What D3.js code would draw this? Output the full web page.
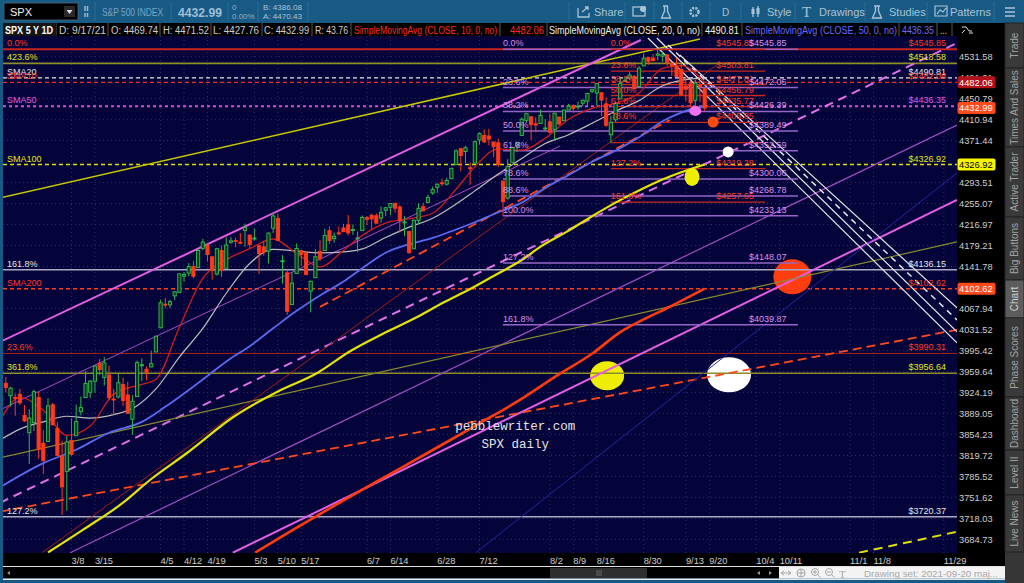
<!DOCTYPE html>
<html><head><meta charset="utf-8">
<script src="https://cdn.jsdelivr.net/npm/d3@7/dist/d3.min.js"></script>
<style>
html,body{margin:0;padding:0;background:#175982;overflow:hidden;}
svg{display:block;font-family:'Liberation Sans',Arial,Helvetica,sans-serif;}
</style></head><body>
<svg id="chart" width="1024" height="583"></svg>
<script>
// ================= DATA =================
// SPX daily candles, 2021-02-16 .. 2021-09-17 (bar index 0..149)
const opens=[3939.61,3918.50,3915.86,3921.16,3885.55,3857.07,3873.71,3915.80,3839.66,
3842.51,3903.64,3863.99,3818.53,3793.58,
3844.39,3851.93,3891.99,3915.54,3924.52,
3942.96,3973.59,3949.57,3953.50,3913.14,
3916.48,3937.60,3919.93,3879.34,3917.12,
3969.31,3963.34,3967.25,3992.78,
4034.44,4075.57,4074.29,4089.95,4096.11,
4124.71,4130.10,4141.58,4139.76,4174.14,
4179.80,4159.18,4128.42,4170.46,4138.78,
4185.03,4188.25,4185.14,4206.14,4198.10,
4191.98,4179.04,4177.06,4169.14,4210.34,
4228.29,4150.34,4130.55,4074.99,4129.58,
4169.92,4165.94,4098.45,4121.97,4168.61,
4170.16,4205.94,4191.59,4201.94,4210.77,
4216.52,4206.82,4191.43,4206.05,
4229.34,4233.81,4232.99,4228.56,4242.90,
4248.31,4255.28,4248.87,4220.37,4204.78,
4173.40,4224.61,4249.27,4256.97,4274.45,
4284.90,4293.21,4290.65,4300.73,4326.60,
4356.46,4351.01,4321.07,4329.38,
4372.41,4381.07,4380.11,4369.02,4367.43,
4296.40,4265.11,4331.13,4361.27,4381.20,
4409.58,4416.38,4402.95,4403.59,4395.12,
4406.86,4392.74,4415.95,4408.86,4429.07,
4437.77,4435.79,4442.18,4446.08,4464.84,
4461.65,4462.12,4440.94,4382.44,4410.56,
4450.29,4484.40,4490.45,4493.75,4474.10,
4513.76,4529.75,4528.80,4534.48,4532.42,
4535.38,4518.09,4513.02,4506.92,
4474.81,4479.33,4447.49,4477.09,4469.74];
const highs=[3950.43,3933.61,3921.98,3930.41,3902.92,3895.98,3928.65,3925.02,3861.08,
3914.50,3906.41,3874.47,3843.67,3851.69,
3881.06,3903.76,3917.35,3960.27,3944.99,
3970.08,3981.04,3983.87,3969.62,3930.12,
3955.31,3949.13,3942.08,3919.54,3978.19,
3981.83,3968.01,3994.41,4020.63,
4083.42,4086.23,4083.13,4098.19,4129.48,
4131.76,4148.00,4151.69,4173.49,4191.31,
4180.81,4159.18,4175.02,4179.57,4194.17,
4194.19,4193.35,4201.53,4218.78,4198.10,
4209.39,4179.04,4187.72,4202.70,4238.04,
4236.39,4162.04,4134.73,4131.58,4183.13,
4171.92,4169.15,4116.93,4172.80,4188.72,
4209.52,4213.42,4202.61,4213.38,4218.36,
4234.12,4217.37,4204.39,4233.45,
4232.34,4236.74,4237.09,4249.74,4248.38,
4255.59,4257.16,4251.89,4232.29,4204.78,
4226.24,4255.84,4256.60,4271.28,4286.12,
4292.14,4300.52,4302.43,4320.66,4355.43,
4356.46,4361.88,4330.88,4371.60,
4386.68,4392.37,4393.68,4369.02,4375.09,
4296.40,4336.84,4359.70,4369.87,4415.18,
4422.73,4416.38,4415.47,4429.97,4412.25,
4422.18,4423.79,4416.17,4429.76,4440.82,
4439.39,4445.21,4449.44,4461.77,4468.37,
4480.26,4462.12,4454.32,4418.61,4444.35,
4489.88,4492.81,4501.71,4495.90,4513.33,
4537.36,4531.39,4537.11,4545.85,4541.45,
4535.38,4521.79,4529.90,4520.47,
4492.99,4485.68,4486.87,4485.87,4471.52];
const lows=[3923.85,3900.43,3885.03,3903.07,3874.71,3805.59,3859.60,3814.04,3789.54,
3842.51,3868.57,3818.86,3723.34,3730.19,
3819.25,3851.93,3885.73,3915.54,3915.21,
3923.54,3953.44,3935.74,3910.86,3886.75,
3914.16,3901.57,3889.07,3853.50,3917.12,
3943.25,3944.35,3966.98,3992.78,
4034.44,4068.14,4068.31,4082.54,4095.51,
4114.82,4124.43,4120.87,4139.76,4170.75,
4150.47,4118.38,4126.01,4123.69,4138.78,
4182.36,4176.22,4181.78,4176.81,4174.85,
4188.03,4128.59,4160.94,4147.33,4201.64,
4188.13,4111.53,4056.88,4074.99,4129.58,
4142.69,4125.99,4061.41,4121.97,4151.72,
4170.16,4182.52,4184.11,4197.78,4203.57,
4197.59,4198.27,4167.93,4206.05,
4215.66,4208.41,4218.74,4220.34,4232.25,
4234.07,4238.35,4202.45,4196.05,4164.40,
4173.40,4217.27,4241.43,4256.97,4271.16,
4274.67,4287.04,4287.96,4300.73,4326.60,
4314.37,4329.79,4289.37,4329.38,
4364.03,4366.92,4362.36,4340.70,4322.53,
4233.13,4262.05,4331.13,4350.06,4381.20,
4405.45,4372.51,4387.01,4403.59,4389.65,
4384.81,4373.00,4400.23,4408.86,4429.07,
4424.74,4430.03,4436.42,4435.96,4460.82,
4437.66,4417.83,4397.59,4367.73,4406.80,
4450.29,4482.28,4485.66,4468.99,4474.10,
4513.76,4515.80,4522.02,4524.66,4521.79,
4513.00,4493.95,4492.07,4457.66,
4445.70,4435.46,4438.37,4443.80,4427.76];
const closes=[3932.59,3931.33,3913.97,3906.71,3876.50,3881.37,3925.43,3829.34,3811.15,
3901.82,3870.29,3819.72,3768.47,3841.94,
3821.35,3875.44,3898.81,3939.34,3943.34,
3968.94,3962.71,3974.12,3915.46,3913.10,
3940.59,3910.52,3889.14,3909.52,3974.54,
3971.09,3958.55,3972.89,4019.87,
4077.91,4073.94,4079.95,4097.17,4128.80,
4127.99,4141.59,4124.66,4170.42,4185.47,
4163.26,4134.94,4173.42,4134.98,4180.17,
4187.62,4186.72,4183.18,4211.47,4181.17,
4192.66,4164.66,4167.59,4201.62,4232.60,
4188.43,4152.10,4063.04,4112.50,4173.85,
4163.29,4127.83,4115.68,4159.12,4155.86,
4197.05,4188.13,4195.99,4200.88,4204.11,
4202.04,4208.12,4192.85,4229.89,
4226.52,4227.26,4219.55,4239.18,4247.44,
4255.15,4246.59,4223.70,4221.86,4166.45,
4224.79,4246.44,4241.84,4266.49,4280.70,
4290.61,4291.80,4297.50,4319.94,4352.34,
4343.54,4358.13,4320.82,4369.55,
4384.63,4369.21,4374.30,4360.03,4327.16,
4258.49,4323.06,4358.69,4367.48,4411.79,
4422.30,4401.46,4400.64,4419.15,4395.26,
4387.16,4423.15,4402.66,4429.10,4436.52,
4432.35,4436.75,4447.70,4460.83,4468.00,
4479.71,4448.08,4400.27,4405.80,4441.67,
4479.53,4486.23,4496.19,4470.00,4509.37,
4528.79,4522.68,4524.09,4536.95,4535.43,
4520.03,4514.07,4493.28,4458.58,
4468.73,4443.05,4480.70,4473.75,4432.99];

// moving averages: [bar index, value]
const sma10=[[-1.2,3877.7],[3,3915.9],[8,3894.3],[13,3852.6],[18,3868.1],[23,3921.3],[28,3935.9],[32,3946.0],[37,4035.5],[42,4120.8],[47,4153.7],[52,4173.7],[57,4190.9],[62,4164.9],[67,4141.2],[72,4170.8],[76,4197.5],[81,4219.7],[86,4227.4],[91,4237.4],[96,4281.2],[100,4322.5],[105,4356.0],[110,4353.5],[115,4375.8],[120,4411.7],[125,4432.4],[130,4442.1],[135,4461.7],[140,4508.9],[144,4514.3],[149,4482.06]];
const sma20=[[-1.2,3845],[3,3863.0],[8,3875.0],[13,3884.3],[18,3881.2],[23,3886.9],[28,3902.0],[32,3930.1],[37,3984.1],[42,4033.4],[47,4094.6],[52,4147.2],[57,4172.3],[62,4169.3],[67,4166.0],[72,4167.8],[76,4173.2],[81,4193.7],[86,4212.4],[91,4228.5],[96,4254.3],[100,4278.3],[105,4309.3],[110,4338.0],[115,4365.9],[120,4382.6],[125,4404.1],[130,4426.9],[135,4447.1],[140,4475.5],[144,4485.9],[149,4490.81]];
const sma50=[[-1.2,3768],[8,3807],[15,3829],[22,3857],[29,3875],[34,3900],[41,3940],[48,3982],[52,4002.7],[57,4033.5],[62,4063.9],[67,4090.8],[72,4115.2],[76,4138.8],[81,4166.3],[86,4181.6],[91,4192.9],[96,4208.1],[100,4221.2],[105,4239.2],[110,4256.8],[115,4283.7],[120,4307.4],[125,4332.1],[130,4352.8],[135,4377.7],[140,4407.8],[144,4424.3],[149,4436.35]];
const sma100=[[9,3664],[16.5,3700],[25,3743],[30.8,3780],[38.7,3824],[48.5,3883],[57.8,3925],[66.4,3957],[73.4,3994],[80.4,4024],[87.7,4053],[93.2,4078],[99,4102.1],[104,4125.1],[110,4153.4],[114,4177.3],[120,4206.1],[125,4232.1],[130,4256.8],[135,4279.0],[140,4299.2],[144,4312.6],[149,4326.92]];
const sma200=[[53.2,3664],[61.3,3700],[70,3738],[80,3781],[90,3824],[101.1,3873],[109.7,3912],[117,3950],[125.2,3991],[131,4027],[136,4049],[141.6,4071],[149,4102.62]];

// price axis ticks (the two covered by badges are not shown in the reference)
const yTicks=[4531.58,4491.01,4450.79,4410.94,4371.44,4293.51,4255.07,4216.97,4179.21,4141.78,4067.94,4031.52,3995.42,3959.64,3924.19,3889.05,3854.23,3819.72,3785.52,3751.62,3718.03,3684.73];
// date axis
const dateLabels=['3/8','3/15','4/5','4/12','4/19','5/3','5/10','5/17','6/7','6/14','6/28','7/12','8/2','8/9','8/16','8/30','9/13','9/20','10/4','10/11','11/1','11/8','11/29'];
const dateBars=[14,19,33,38,43,53,58,63,77,82,92,101,116,121,126,136,145,150,160,165,180,185,200];

// full-width price levels
const levelPrices=[4545.85,4518.58,4490.81,4482.06,4436.35,4326.92,4136.15,4102.62,3990.31,3956.64,3720.37];
const levelNames=['0.0%','423.6%','SMA20','SMA10','SMA50','SMA100','161.8%','SMA200','23.6%','361.8%','127.2%'];
const levelKinds=['red','olive','white','red2','magenta','yellow','gray','orange','red3','olive','gray'];

// fibonacci sets
const fibAPct=['0.0%','23.6%','38.2%','50.0%','61.8%','78.6%','88.6%','100.0%','127.2%','161.8%'];
const fibAPrice=[4545.85,4472.05,4426.39,4389.49,4352.59,4300.06,4268.78,4233.13,4148.07,4039.87];
const fibASpan=[106.0,168.9];
const fibBPct=['0.0%','23.6%','38.2%','50.0%','61.8%','78.6%','','127.2%','161.8%'];
const fibBPrice=[4545.85,4503.81,4477.81,4456.79,4435.77,4405.85,4367.73,4319.28,4257.65];
const fibBSpan=[129.0,161.9];

// trend lines: [bar, price] -> [bar, price]
const trendA=[[-1.24,4265.4],[-1.24,4010.1],[-1.24,3895.0],[-1.24,3742.9],[48.4,3663.6],[13.7,3663.6],[-1.24,3728.5],[67.0,4070.7],[-1.24,3815.7],[181.9,3663.6],[7.7,3663.6],[100.2,3663.6],[136.9,4568.1],[138.8,4568.1],[141.2,4554.4],[143.7,4534.9]];
const trendB=[[148.0,4566.1],[135.4,4564.1],[118.2,4361.5],[202.8,4558.3],[202.8,4261.8],[202.8,4400.9],[202.8,4031.0],[141.6,4410.3],[202.8,4185.7],[202.8,3696.7],[151.6,4515.5],[202.8,4311.3],[202.8,4008.5],[202.8,4027.4],[202.8,4048.2],[202.8,4069.0]];
const trendKinds=['yellow','pink','pinkThin','pinkDash','pink','purple','redDash','redDash','olive','yellowDash','darkRed','navy','white','white','whiteDash','white'];

// marker dots
const markBars=[128.2,154.2,167.7,146.3,154.0,147.0,150.8];
const markPrices=[3952.3,3954.0,4123.5,4303.9,4350.3,4427.4,4406.5];
const markKinds=['bigYellow','bigWhite','bigOrange','dotYellow','dotWhite','dotPink','dotOrange'];

// badges on price axis
const badgeValues=[4482.06,4432.99,4326.92,4102.62];
const badgeKinds=['darkred','orange','yellow','orange'];

// ================= STYLES =================
const levelStyle={
 red:{s:'#c8261c',w:2,d:null,t:'#ff3a22'},
 olive:{s:'#8c8c2a',w:1.6,d:null,t:'#e4e41a'},
 white:{s:'#e6e6e6',w:1.3,d:'4,3',t:'#e6e6e6'},
 red2:{s:'#e8302a',w:1.3,d:'4,3',t:'#ff3a22'},
 magenta:{s:'#d54fd5',w:2,d:'3,3',t:'#e05ce0'},
 yellow:{s:'#e0e000',w:1.5,d:'4,3',t:'#e4e41a'},
 gray:{s:'#a9a9c4',w:1.5,d:null,t:'#e6e6e6'},
 orange:{s:'#ff3c1e',w:1.5,d:'4,3',t:'#ff3a22'},
 red3:{s:'#a82018',w:1,d:null,t:'#ff3a22'}
};
const trendStyle={
 yellow:{s:'#c8c800',w:1.5},
 pink:{s:'#e25ee2',w:2},
 pinkThin:{s:'#a64ac0',w:1},
 pinkDash:{s:'#e070e8',w:2,d:'9,6'},
 purple:{s:'#a050c0',w:1.2},
 redDash:{s:'#ff4a1e',w:1.8,d:'9,5'},
 olive:{s:'#8a8a30',w:1.2},
 yellowDash:{s:'#e0e000',w:2,d:'9,6'},
 darkRed:{s:'#a02018',w:1},
 navy:{s:'#2626a0',w:1},
 white:{s:'#e8e8e8',w:1.2},
 whiteDash:{s:'#e8e8e8',w:1.5,d:'6,5'}
};
const markStyle={
 bigYellow:{f:'#eeee00',rx:17,ry:14.5},
 bigWhite:{f:'#ffffff',rx:22,ry:17.5},
 bigOrange:{f:'#ff3d0e',rx:19,ry:17.5},
 dotYellow:{f:'#eeee00',rx:7.5,ry:9},
 dotWhite:{f:'#ffffff',rx:5.5,ry:5.5},
 dotPink:{f:'#f070f0',rx:6,ry:5},
 dotOrange:{f:'#ff4a10',rx:5.5,ry:5.5}
};
const badgeStyle={darkred:{f:'#b3121b',t:'#fff'},orange:{f:'#ff4a1c',t:'#fff'},yellow:{f:'#f6f600',t:'#000'}};
const maStyle=[[sma200,'#ff3b10',2.6],[sma100,'#e4e400',2.2],[sma50,'#5a6af0',1.8],[sma20,'#bdbdbd',1.2],[sma10,'#d01c1c',1.3]];

// ================= LAYOUT =================
const svg=d3.select('#chart');
const L={pl:3,pr:957,pt:36,pb:553,ar:1003,sl:1005};
const x=d3.scaleLinear().domain([-0.6,202.8]).range([L.pl,L.pr]);
const y=d3.scaleLog().domain([3684.73,4531.58]).range([539.3,56.7]);
const FS=9;

// backgrounds
svg.append('rect').attr('width',1024).attr('height',583).attr('fill','#175982');
svg.append('rect').attr('x',0).attr('y',0).attr('width',1024).attr('height',23).attr('fill','#185a84');
svg.append('rect').attr('x',3).attr('y',23).attr('width',1002).attr('height',13).attr('fill','#000');
svg.append('rect').attr('x',L.pl).attr('y',L.pt).attr('width',L.pr-L.pl).attr('height',L.pb-L.pt).attr('fill','#04043a');
svg.append('rect').attr('x',L.pr).attr('y',L.pt).attr('width',L.sl-L.pr).attr('height',L.pb-L.pt).attr('fill','#000');
svg.append('rect').attr('x',3).attr('y',L.pb).attr('width',L.sl-3).attr('height',13).attr('fill','#000');
svg.append('rect').attr('x',3).attr('y',566).attr('width',L.sl-3).attr('height',1).attr('fill','#e0e0e0');
svg.append('rect').attr('x',3).attr('y',567).attr('width',776).attr('height',11.5).attr('fill','#000');
svg.append('rect').attr('x',779).attr('y',567).attr('width',L.sl-779).attr('height',11.5).attr('fill','#f3f3f3');
svg.append('rect').attr('x',3).attr('y',578.5).attr('width',L.sl-3).attr('height',1.5).attr('fill','#e8e8e8');

const defs=svg.append('defs');
defs.append('clipPath').attr('id','clip').append('rect').attr('x',L.pl).attr('y',L.pt).attr('width',L.pr-L.pl).attr('height',L.pb-L.pt);
const g=svg.append('g').attr('clip-path','url(#clip)');

// grid
g.selectAll('.hg').data(yTicks).join('line').attr('x1',L.pl).attr('x2',L.pr)
 .attr('y1',d=>y(d)).attr('y2',d=>y(d)).attr('stroke','#2e2e62').attr('stroke-width',1).attr('stroke-dasharray','1,3');
g.selectAll('.vg').data(dateBars).join('line').attr('y1',L.pt).attr('y2',L.pb)
 .attr('x1',d=>x(d)).attr('x2',d=>x(d)).attr('stroke','#2e2e62').attr('stroke-width',1).attr('stroke-dasharray','1,3');

// big markers (under lines)
const marks=markBars.map((b,i)=>({b,p:markPrices[i],k:markKinds[i]}));
g.selectAll('.bm').data(marks.filter(m=>m.k.startsWith('big'))).join('ellipse')
 .attr('cx',d=>x(d.b)).attr('cy',d=>y(d.p)).attr('rx',d=>markStyle[d.k].rx).attr('ry',d=>markStyle[d.k].ry).attr('fill',d=>markStyle[d.k].f);

// full-width levels
const levels=levelPrices.map((p,i)=>({p,n:levelNames[i],k:levelKinds[i]}));
g.selectAll('.lv').data(levels).join('line').attr('x1',L.pl).attr('x2',L.pr)
 .attr('y1',d=>y(d.p)).attr('y2',d=>y(d.p))
 .attr('stroke',d=>levelStyle[d.k].s).attr('stroke-width',d=>levelStyle[d.k].w)
 .attr('stroke-dasharray',d=>levelStyle[d.k].d);

// trend lines
const trends=trendA.map((a,i)=>({a,b:trendB[i],k:trendKinds[i]}));
g.selectAll('.tl').data(trends).join('line')
 .attr('x1',d=>x(d.a[0])).attr('y1',d=>y(d.a[1])).attr('x2',d=>x(d.b[0])).attr('y2',d=>y(d.b[1]))
 .attr('stroke',d=>trendStyle[d.k].s).attr('stroke-width',d=>trendStyle[d.k].w)
 .attr('stroke-dasharray',d=>trendStyle[d.k].d||null);

// fib lines
function fib(pcts,prices,span,lineC,lw){
  const data=prices.map((p,i)=>({p,t:pcts[i]}));
  g.selectAll(null).data(data).join('line').attr('x1',x(span[0])).attr('x2',x(span[1]))
   .attr('y1',d=>y(d.p)).attr('y2',d=>y(d.p)).attr('stroke',lineC).attr('stroke-width',lw);
  return data;
}
const fibAData=fib(fibAPct,fibAPrice,fibASpan,'#9464c8',1.5);
const fibBData=fib(fibBPct,fibBPrice,fibBSpan,'#c42a1c',1.3);

// moving averages
const line=d3.line().x(d=>x(d[0])).y(d=>y(d[1])).curve(d3.curveMonotoneX);
maStyle.forEach(([arr,c,w])=>{
  g.append('path').attr('d',line(arr)).attr('fill','none').attr('stroke',c).attr('stroke-width',w);
});

// candles
const bars=closes.map((c,i)=>({i,o:opens[i],h:highs[i],l:lows[i],c}));
const cg=g.append('g');
cg.selectAll('.wk').data(bars).join('line').attr('x1',d=>x(d.i)).attr('x2',d=>x(d.i))
 .attr('y1',d=>y(d.h)).attr('y2',d=>y(d.l)).attr('stroke',d=>d.c>=d.o?'#2fb84c':'#ff3a1a').attr('stroke-width',1);
cg.selectAll('.bd').data(bars).join('rect')
 .attr('x',d=>x(d.i)-1.6).attr('width',3.2)
 .attr('y',d=>y(Math.max(d.o,d.c))).attr('height',d=>Math.max(1,y(Math.min(d.o,d.c))-y(Math.max(d.o,d.c))))
 .attr('fill',d=>d.c>=d.o?'#0c3a1c':'#ff3a1a').attr('stroke',d=>d.c>=d.o?'#33c050':'#ff3a1a').attr('stroke-width',0.9);

// small dots
g.selectAll('.sm').data(marks.filter(m=>m.k.startsWith('dot'))).join('ellipse')
 .attr('cx',d=>x(d.b)).attr('cy',d=>y(d.p)).attr('rx',d=>markStyle[d.k].rx).attr('ry',d=>markStyle[d.k].ry).attr('fill',d=>markStyle[d.k].f);

// fib labels
function fibLabels(data,span,c){
  const tg=g.append('g').attr('font-size',FS).attr('fill',c);
  tg.selectAll(null).data(data.filter(d=>d.t)).join('text').attr('x',x(span[0])).attr('y',d=>y(d.p)-3).text(d=>d.t);
  tg.selectAll(null).data(data.filter(d=>d.t)).join('text').attr('x',x(span[1])-49).attr('y',d=>y(d.p)-3).text(d=>'$'+d.p.toFixed(2));
}
fibLabels(fibBData,fibBSpan,'#ff3c28');
fibLabels(fibAData,fibASpan,'#d892ee');

// level labels
const lg=g.append('g').attr('font-size',FS);
lg.selectAll(null).data(levels).join('text').attr('x',L.pl+4).attr('y',d=>y(d.p)-3)
 .attr('fill',d=>levelStyle[d.k].t).text(d=>d.n);
lg.selectAll(null).data(levels).join('text').attr('x',L.pr-11).attr('text-anchor','end').attr('y',d=>y(d.p)-3)
 .attr('fill',d=>levelStyle[d.k].t).text(d=>'$'+d.p.toFixed(2));

// watermark
const wm=g.append('g').attr('font-family',"'Liberation Mono','DejaVu Sans Mono',monospace").attr('font-size',12.5).attr('fill','#e4e4e4').attr('text-anchor','middle');
wm.append('text').attr('x',x(108.6)).attr('y',y(3861.8)).text('pebblewriter.com');
wm.append('text').attr('x',x(108.6)).attr('y',y(3832.6)).text('SPX daily');

// price axis
svg.append('g').attr('font-size',9.3).attr('fill','#cfcfcf').selectAll('text').data(yTicks).join('text')
 .attr('x',L.pr+2).attr('y',d=>y(d)+3.3).text(d=>d.toFixed(2));
const badges=badgeValues.map((v,i)=>({v,k:badgeKinds[i]}));
const bg=svg.append('g');
bg.selectAll('rect').data(badges).join('rect').attr('x',L.pr+0.5).attr('y',d=>y(d.v)-6).attr('width',38).attr('height',12).attr('rx',2)
 .attr('fill',d=>badgeStyle[d.k].f);
bg.selectAll('text').data(badges).join('text').attr('x',L.pr+2).attr('y',d=>y(d.v)+3.3).attr('font-size',9.3)
 .attr('fill',d=>badgeStyle[d.k].t).text(d=>d.v.toFixed(2));

// date axis
svg.append('g').attr('font-size',9.3).attr('fill','#cfcfcf').selectAll('text').data(dateLabels).join('text')
 .attr('x',(d,i)=>x(dateBars[i])).attr('y',563.5).text(d=>d);

// ================= INFO BAR =================
const info=svg.append('g').attr('font-size',10);
const seps=[56,108,160,211,262,312,351,500,547,702,742,899,937,952];
info.selectAll('line').data(seps).join('line').attr('x1',d=>d).attr('x2',d=>d).attr('y1',23).attr('y2',36).attr('stroke','#3a3a3a').attr('stroke-width',1.5);
info.append('rect').attr('x',3).attr('y',23).attr('width',53).attr('height',13).attr('fill','#151515');
const infoTexts=[
 ['SPX 5 Y 1D',5,48,'#ffffff',true],['D: 9/17/21',59,47,'#cfcfcf'],['O: 4469.74',111,47,'#cfcfcf'],['H: 4471.52',163,46,'#cfcfcf'],
 ['L: 4427.76',213,46,'#cfcfcf'],['C: 4432.99',264,45,'#cfcfcf'],['R: 43.76',315,33,'#cfcfcf'],
 ['SimpleMovingAvg (CLOSE, 10, 0, no)',354,143,'#ff2a1e'],['4482.06',510,34,'#ff2a1e'],
 ['SimpleMovingAvg (CLOSE, 20, 0, no)',549,151,'#f0f0f0'],['4490.81',705,34,'#f0f0f0'],
 ['SimpleMovingAvg (CLOSE, 50, 0, no)',745,152,'#6a6aff'],['4436.35',902,32,'#6a6aff'],['...',940,7,'#e8e800']
];
infoTexts.forEach(([t,x0,w,c,b])=>{
  info.append('text').attr('x',x0).attr('y',33.5).attr('fill',c).attr('font-weight',b?'bold':null)
   .attr('textLength',w).attr('lengthAdjust','spacingAndGlyphs').text(t);
});
info.append('path').attr('d','M962,27 l4,0 l3,4 l3,0 M962,33 l3,-3 M969,33 l4,0').attr('stroke','#ddd').attr('fill','none').attr('stroke-width',1);

// ================= TOOLBAR =================
const tb=svg.append('g').attr('font-size',11).attr('fill','#a9c3d6');
tb.append('rect').attr('x',4).attr('y',3).attr('width',74).attr('height',17).attr('fill','#000').attr('stroke','#4a6a80').attr('stroke-width',0.8);
tb.append('text').attr('x',10).attr('y',15.5).attr('fill','#f0f0f0').attr('font-size',11).text('SPX');
tb.append('rect').attr('x',64).attr('y',6).attr('width',11).attr('height',11).attr('fill','#2a2a2a');
tb.append('path').attr('d','M66.5,10 l6,0 l-3,4 z').attr('fill','#ddd');
tb.append('path').attr('d','M85,6 l0,5 M87.5,6 l0,5 M85,13 l0,4 M87.5,13 l0,4').attr('stroke','#9fb6c6').attr('stroke-width',1.5);
tb.append('text').attr('x',102).attr('y',15.5).attr('fill','#7ea4c0').attr('textLength',61).attr('lengthAdjust','spacingAndGlyphs').text('S&P 500 INDEX');
tb.append('text').attr('x',178).attr('y',17).attr('font-size',13).attr('font-weight','bold').attr('fill','#9dbfd8').attr('textLength',44).attr('lengthAdjust','spacingAndGlyphs').text('4432.99');
tb.append('text').attr('x',232).attr('y',9.5).attr('font-size',8).attr('fill','#8fb0c8').text('0');
tb.append('text').attr('x',232).attr('y',19).attr('font-size',8).attr('fill','#8fb0c8').text('0.00%');
tb.append('text').attr('x',263).attr('y',9.5).attr('font-size',8).attr('fill','#a9c3d6').attr('textLength',39).attr('lengthAdjust','spacingAndGlyphs').text('B: 4386.08');
tb.append('text').attr('x',263).attr('y',19).attr('font-size',8).attr('fill','#a9c3d6').attr('textLength',39).attr('lengthAdjust','spacingAndGlyphs').text('A: 4470.43');
const tseps=[95,171,228,258,308,569,625,654,682,710,741,795,865,927,994];
tb.selectAll('line').data(tseps).join('line').attr('x1',d=>d).attr('x2',d=>d).attr('y1',2).attr('y2',21).attr('stroke','#2d6d96').attr('stroke-width',1);
tb.append('path').attr('d','M578,8 l0,9 l11,0 l0,-4 M582,12 l6,-5 m-3,0 l3,0 l0,3').attr('stroke','#a9c3d6').attr('fill','none').attr('stroke-width',1.3);
tb.append('text').attr('x',594).attr('y',15.5).text('Share');
tb.append('rect').attr('x',633).attr('y',7).attr('width',12).attr('height',9).attr('fill','none').attr('stroke','#a9c3d6').attr('stroke-width',1.3);
tb.append('circle').attr('cx',643).attr('cy',9).attr('r',3).attr('fill','#a9c3d6');
tb.append('path').attr('d','M663,6 l5,0 M664.5,6 l0,5 l-3,7 l9,0 l-3,-7 l0,-5').attr('stroke','#a9c3d6').attr('fill','none').attr('stroke-width',1.3);
tb.append('circle').attr('cx',694.5).attr('cy',12).attr('r',4).attr('fill','none').attr('stroke','#a9c3d6').attr('stroke-width',2.5).attr('stroke-dasharray','2,1.2');
tb.append('text').attr('x',722).attr('y',15.5).attr('font-size',10).text('D');
tb.append('path').attr('d','M753,7 l0,10 M758,6 l0,11').attr('stroke','#a9c3d6').attr('stroke-width',1.3);
tb.append('rect').attr('x',751.5).attr('y',9).attr('width',3).attr('height',5).attr('fill','#a9c3d6');
tb.append('rect').attr('x',756.5).attr('y',8).attr('width',3).attr('height',6).attr('fill','#a9c3d6');
tb.append('text').attr('x',767).attr('y',15.5).text('Style');
tb.append('text').attr('x',802).attr('y',17).attr('font-size',15).attr('font-family',"'Liberation Serif',serif").text('T');
tb.append('text').attr('x',819).attr('y',15.5).text('Drawings');
tb.append('path').attr('d','M874,6 l6,0 M875.5,6 l0,5 l-3,7 l9,0 l-3,-7 l0,-5').attr('stroke','#a9c3d6').attr('fill','none').attr('stroke-width',1.3);
tb.append('text').attr('x',889).attr('y',15.5).text('Studies');
tb.append('path').attr('d','M935,6 l12,0 l0,10 l-12,0 z M937,14 l3,-4 l3,2 l3,-4').attr('stroke','#a9c3d6').attr('fill','none').attr('stroke-width',1.2);
tb.append('text').attr('x',950).attr('y',15.5).text('Patterns');
tb.append('path').attr('d','M1005,8 l10,0 M1005,12 l10,0 M1005,16 l10,0').attr('stroke','#a9c3d6').attr('stroke-width',1.3);

// ================= SIDEBAR =================
const sb=svg.append('g');
sb.append('rect').attr('x',L.sl).attr('y',23).attr('width',1024-L.sl).attr('height',560).attr('fill','#363636');
const tabNames=['Trade','Times And Sales','Active Trader','Big Buttons','Chart','Phase Scores','Dashboard','Level II','Live News'];
const tabEdges=[23,68,147,217,280,318,397,450,495,552];
tabNames.forEach((t,i)=>{
  const y0=tabEdges[i],y1=tabEdges[i+1];
  sb.append('rect').attr('x',L.sl).attr('y',y0).attr('width',1024-L.sl).attr('height',y1-y0)
    .attr('fill',t==='Chart'?'#5c5c5c':'#3a3a3a').attr('stroke','#222').attr('stroke-width',1);
  sb.append('text').attr('transform',`translate(1018,${(y0+y1)/2}) rotate(-90)`).attr('text-anchor','middle')
    .attr('font-size',10).attr('fill',t==='Chart'?'#d0d0d0':'#a2a2a2').text(t);
});

// ================= SCROLL BAR / STATUS =================
svg.append('rect').attr('x',550).attr('y',568).attr('width',97).attr('height',10).attr('fill','#2e2e2e');
svg.append('path').attr('d','M597,570 l0,6 M599,570 l0,6 M601,570 l0,6').attr('stroke','#777').attr('stroke-width',0.8);
svg.append('path').attr('d','M10,571 l-3,2 l3,2 z M760,571 l-3,2 l3,2 z M769,571 l3,2 l-3,2 z').attr('fill','#999');
const st=svg.append('g').attr('stroke','#a8a8a8').attr('fill','none').attr('stroke-width',1);
st.append('path').attr('d','M781,573 l10,0 M781,573 l3,-2 M781,573 l3,2 M791,573 l-3,-2 M791,573 l-3,2');
st.append('circle').attr('cx',801).attr('cy',573).attr('r',4);
st.append('path').attr('d','M797,573 l8,0 M801,569 l0,8');
st.append('circle').attr('cx',815).attr('cy',572).attr('r',3.5);
st.append('path').attr('d','M817.5,574.5 l3,3 M813,572 l4,0 M815,570 l0,4');
st.append('circle').attr('cx',829).attr('cy',572).attr('r',3.5);
st.append('path').attr('d','M831.5,574.5 l3,3 M827,572 l4,0');
svg.append('text').attr('x',839).attr('y',577.5).attr('font-size',11).attr('fill','#a8a8a8').attr('font-family',"'Liberation Serif',serif").text('T');
svg.append('text').attr('x',864).attr('y',576.5).attr('font-size',9).attr('fill','#a8a8a8').attr('textLength',134).attr('lengthAdjust','spacingAndGlyphs').text('Drawing set: 2021-09-20 maj...');
</script>
</body></html>
